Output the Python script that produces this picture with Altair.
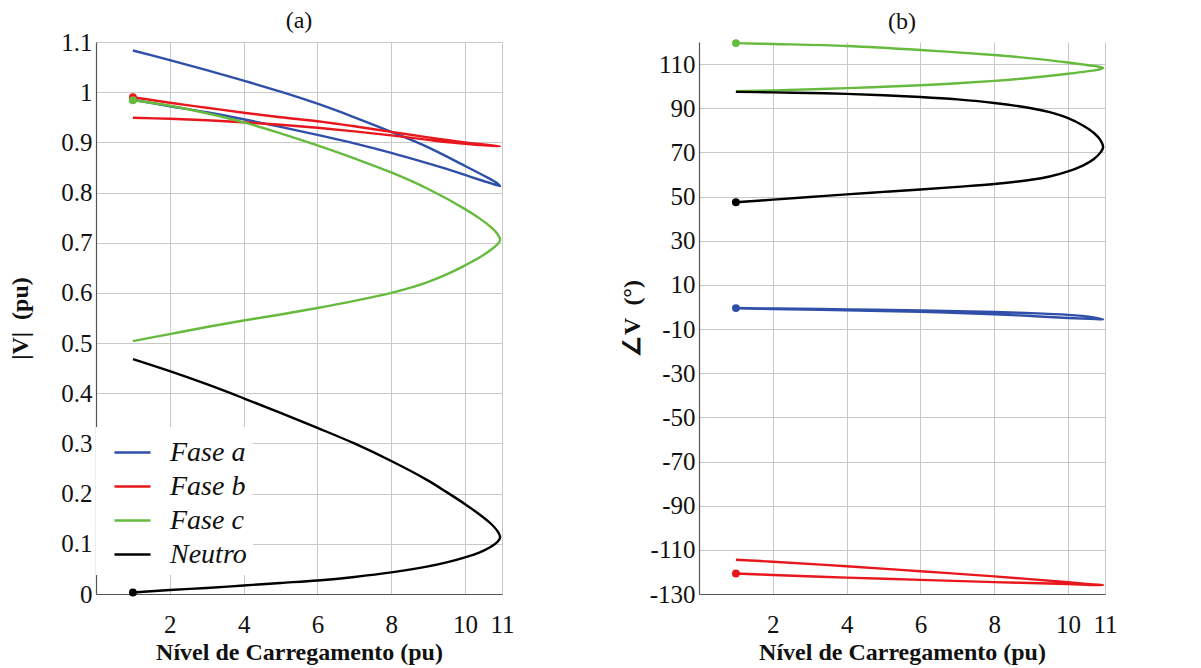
import altair as alt
import pandas as pd

series_names = ["Fase a", "Fase b", "Fase c", "Neutro"]
series_colors = ["#2F4FA8", "#E8171D", "#66BB3F", "#000000"]

x_ticks = [2, 4, 6, 8, 10, 11]
ya_ticks = [0, 0.1, 0.2, 0.3, 0.4, 0.5, 0.6, 0.7, 0.8, 0.9, 1.0, 1.1]
yb_ticks = [-130, -110, -90, -70, -50, -30, -10, 10, 30, 50, 70, 90, 110]

# ---- Panel (a): |V| (pu); each path starts at the marked point ----
a_fase_a_x = [1, 2, 3, 4, 5, 6, 7, 8, 9, 9.5, 10, 10.5, 10.8, 10.95,
              10.8, 10.5, 10, 9, 8, 7, 6, 5, 4, 3, 2, 1]
a_fase_a_y = [0.985, 0.972, 0.960, 0.946, 0.931, 0.915, 0.898, 0.879, 0.858, 0.847,
              0.835, 0.823, 0.816, 0.813,
              0.822, 0.834, 0.853, 0.890, 0.921, 0.950, 0.977, 1.001, 1.023, 1.044,
              1.064, 1.083]

a_fase_b_x = [1, 2, 3, 4, 5, 6, 7, 8, 9, 10, 10.95,
              10, 9, 8, 7, 6, 5, 4, 3, 2, 1]
a_fase_b_y = [0.990, 0.979, 0.969, 0.959, 0.950, 0.942, 0.932, 0.921, 0.910, 0.900, 0.892,
              0.897, 0.905, 0.914, 0.922, 0.929, 0.935, 0.940, 0.944, 0.947, 0.949]

a_fase_c_x = [1, 2, 3, 4, 5, 6, 7, 8, 9, 10, 10.4, 10.7, 10.88, 10.95,
              10.88, 10.7, 10.4, 10, 9.5, 9, 8.5, 8, 7, 6, 5, 4, 3, 2, 1]
a_fase_c_y = [0.984, 0.973, 0.958, 0.940, 0.918, 0.894, 0.868, 0.840, 0.807, 0.767,
              0.748, 0.731, 0.717, 0.706,
              0.697, 0.686, 0.671, 0.655, 0.637, 0.622, 0.610, 0.600, 0.584, 0.570,
              0.557, 0.545, 0.532, 0.518, 0.504]

a_neutro_x = [1, 2, 3, 4, 5, 6, 7, 8, 9, 9.5, 10, 10.4, 10.7, 10.88, 10.95,
              10.88, 10.7, 10.4, 10, 9.5, 9, 8, 7, 6, 5, 4, 3, 2, 1]
a_neutro_y = [0.003, 0.008, 0.012, 0.017, 0.022, 0.027, 0.034, 0.043, 0.055, 0.063,
              0.073, 0.083, 0.094, 0.104, 0.113,
              0.125, 0.140, 0.158, 0.179, 0.203, 0.226, 0.265, 0.300, 0.331, 0.361,
              0.390, 0.418, 0.444, 0.468]

# ---- Panel (b): angle (degrees) ----
b_fase_a_x = [1, 2, 4, 6, 8, 9, 10, 10.6, 10.95, 10.6, 10, 9, 8, 6, 4, 2, 1]
b_fase_a_y = [-0.5, -0.7, -1.1, -1.6, -2.3, -2.8, -3.6, -4.5, -5.6,
              -5.4, -5.0, -4.1, -3.3, -2.2, -1.5, -0.9, -0.6]

b_fase_b_x = [1, 2, 4, 6, 8, 10, 10.6, 10.95, 10.6, 10, 8, 6, 4, 2, 1]
b_fase_b_y = [-120.7, -121.4, -122.6, -123.6, -124.6, -125.5, -125.9, -126.0,
              -125.6, -124.7, -122.0, -119.7, -117.4, -115.4, -114.5]

b_fase_c_x = [1, 2, 4, 6, 8, 9, 10, 10.5, 10.8, 10.95,
              10.8, 10.5, 10, 9, 8, 7, 6, 4, 2, 1]
b_fase_c_y = [119.5, 119.1, 118.2, 116.4, 114.1, 112.6, 110.7, 109.6, 108.9, 108.2,
              107.4, 106.7, 105.6, 103.8, 102.4, 101.3, 100.4, 99.1, 98.1, 97.7]

b_neutro_x = [1, 2, 3, 4, 5, 6, 7, 8, 9, 9.5, 10, 10.4, 10.7, 10.88, 10.95,
              10.88, 10.7, 10.4, 10, 9.5, 9, 8, 7, 6, 5, 4, 3, 2, 1]
b_neutro_y = [47.4, 48.6, 49.8, 51.0, 52.1, 53.2, 54.4, 55.7, 57.6, 59.1,
              61.4, 64.0, 67.0, 70.0, 72.4,
              75.5, 78.8, 82.2, 85.5, 88.2, 90.0, 92.4, 94.0, 95.1, 95.9,
              96.5, 96.9, 97.2, 97.4]


def build(pairs):
    rows = []
    for name, xs, ys in pairs:
        for i, (xv, yv) in enumerate(zip(xs, ys)):
            rows.append({"serie": name, "i": i, "x": xv, "y": yv})
    return pd.DataFrame(rows)


df_a = build([
    ("Fase a", a_fase_a_x, a_fase_a_y),
    ("Fase b", a_fase_b_x, a_fase_b_y),
    ("Fase c", a_fase_c_x, a_fase_c_y),
    ("Neutro", a_neutro_x, a_neutro_y),
])
df_b = build([
    ("Fase a", b_fase_a_x, b_fase_a_y),
    ("Fase b", b_fase_b_x, b_fase_b_y),
    ("Fase c", b_fase_c_x, b_fase_c_y),
    ("Neutro", b_neutro_x, b_neutro_y),
])

FONT = "Liberation Serif, Times New Roman, Times, serif"
W, H = 406, 552
NB = "\u00a0"


def axis(values, title, label_pad, title_pad, label_expr=None, title_x=None):
    kw = dict(
        values=values, title=title,
        labelFont=FONT, labelFontSize=25, labelColor="#111", labelFontWeight="normal",
        labelFlush=False, labelOverlap=False,
        titleFont=FONT, titleFontSize=24, titleFontWeight="bold", titleColor="#111",
        labelPadding=label_pad, titlePadding=title_pad,
        grid=True, gridColor="#c8c8c8", gridWidth=1,
        domainColor="#555", domainWidth=1.2, ticks=False,
    )
    if label_expr:
        kw["labelExpr"] = label_expr
    if title_x is not None:
        kw["titleX"] = title_x
        kw["titleBaseline"] = "middle"
    return alt.Axis(**kw)


def panel(df, ydomain, yticks, ytitle, title, legend, title_x, title_offset, ylabel_expr):
    scale_c = alt.Scale(domain=series_names, range=series_colors)
    xenc = alt.X(
        "x:Q",
        scale=alt.Scale(domain=[0, 11], nice=False, zero=False),
        axis=axis(x_ticks, "Nível de Carregamento (pu)", 18, 3),
    )
    yenc = alt.Y(
        "y:Q",
        scale=alt.Scale(domain=ydomain, nice=False, zero=False),
        axis=axis(yticks, ytitle, 4, 10, ylabel_expr, title_x=title_x),
    )
    base = alt.Chart(df)
    lines = base.mark_line(strokeWidth=2.4, interpolate="catmull-rom").encode(
        x=xenc, y=yenc,
        color=alt.Color("serie:N", scale=scale_c, legend=legend),
        order="i:Q", detail="serie:N",
    )
    dots = base.transform_filter(alt.datum.i == 0).mark_circle(
        size=62, opacity=1
    ).encode(x=xenc, y=yenc, color=alt.Color("serie:N", scale=scale_c, legend=None))
    return alt.layer(lines, dots).properties(
        width=W, height=H,
        title=alt.TitleParams(title, fontSize=24, fontWeight="normal", font=FONT,
                              offset=title_offset, color="#111"),
    )


legend_a = alt.Legend(
    title=None, orient="none", legendX=0, legendY=385,
    symbolType="stroke", symbolSize=1300, symbolStrokeWidth=2.4,
    symbolOffset=11, labelOffset=18,
    labelFont=FONT, labelFontStyle="italic", labelFontSize=28, labelColor="#111",
    labelFontWeight="normal",
    fillColor="white", padding=6, rowPadding=-1,
)

left = panel(df_a, [0, 1.1], ya_ticks, "|V|" + NB + NB + "(pu)", "(a)", legend_a, -76, -3,
             "format(datum.value, '~g')")
right = panel(df_b, [-130, 120], yb_ticks, "∠V" + NB + NB + "(°)", "(b)", None, -67, 4,
              "'' + datum.value")

chart = alt.hconcat(left, right, spacing=197, bounds="flush").resolve_scale(
    color="independent"
).configure(
    font=FONT,
).configure_view(
    stroke=None,
).properties(
    padding={"left": 8, "top": 9, "right": 5, "bottom": 5},
    background="white",
)

chart.save("out.html", embed_options={"renderer": "svg", "actions": False})
